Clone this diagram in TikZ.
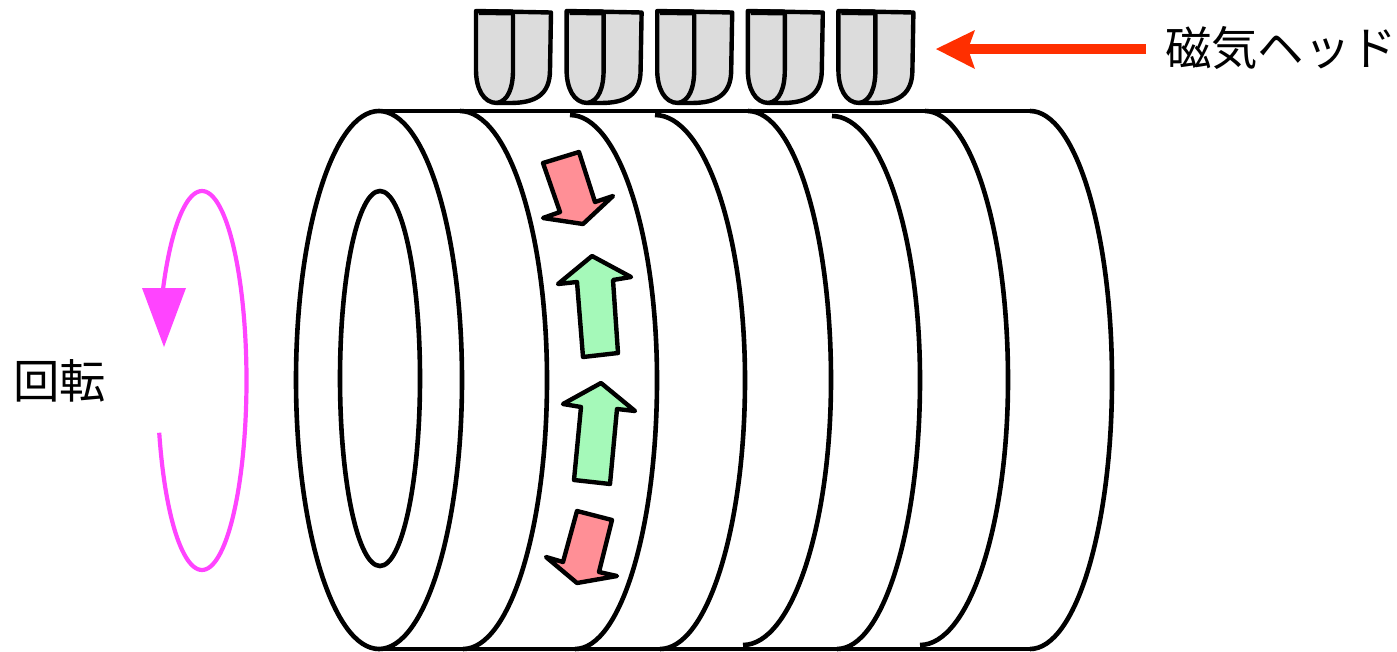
\documentclass[tikz,border=0pt]{standalone}
\usepackage{fontspec}
\newfontfamily\jpfont{Noto Sans CJK JP}
\definecolor{headgray}{HTML}{DCDCDC}
\definecolor{redfill}{HTML}{FF8F96}
\definecolor{greenfill}{HTML}{A5F9B9}
\definecolor{magentaline}{HTML}{FF44FF}
\definecolor{redline}{HTML}{FF2F00}
\newcommand{\halfarc}[5]{% top x, top y, mid x, bottom x, bottom y
  \def\midy{380}
  \draw[bodyline] (#1,#2) .. controls ({#1+0.5523*(#3-#1)},#2) and (#3,{\midy-0.5523*(\midy-#2)}) .. (#3,\midy)
     .. controls (#3,{\midy+0.5523*(#5-\midy)}) and ({#4+0.5523*(#3-#4)},#5) .. (#4,#5);
}
\newcommand{\headshape}[1]{%
  \begin{scope}[xshift=#1pt]
    \draw[headline,fill=headgray,line join=round] (476,11) -- (551,12.5) -- (550,70)
      .. controls (550,95) and (535,103) .. (510,103) -- (497,103)
      .. controls (483,103) and (476,88) .. (476,70) -- cycle;
    \draw[headline] (513,12) -- (513,70) .. controls (513,88) and (508,101) .. (497,103);
    \draw[line width=6pt] (479,12) -- (513,12.5);
  \end{scope}
}
\tikzset{
  bodyline/.style={line width=4.6pt,black},
  headline/.style={line width=4.4pt,black},
  arrowbox/.style={line width=4.4pt,black,line join=round},
  textlabel/.style={font=\jpfont\fontsize{46.4}{47}\selectfont,inner sep=0pt,text=black},
}
\begin{document}
\begin{tikzpicture}[x=1pt,y=-1pt]
\useasboundingbox (0,0) rectangle (1397,651);
\fill[white] (0,0) rectangle (1397,651);
% cylinder
\draw[bodyline] (379,380) ellipse [x radius=83pt,y radius=269pt];
\draw[bodyline] (380,378.5) ellipse [x radius=40pt,y radius=187.5pt];
\draw[bodyline] (379,111) -- (1030,111);
\draw[bodyline] (379,649) -- (1030,649);
\halfarc{460}{111}{547}{463}{649}
\halfarc{570}{115}{657}{575}{649}
\halfarc{655}{115}{745}{660}{649}
\halfarc{748}{111}{831}{743}{645}
\halfarc{832}{116}{920}{837}{649}
\halfarc{925}{111}{1008}{920}{645}
\halfarc{1030}{111}{1112}{1030}{649}
% heads
\headshape{0}\headshape{90.6}\headshape{181.2}\headshape{271.8}\headshape{362.4}
% small arrows
\draw[arrowbox,fill=redfill] (543,163) -- (579,152) -- (595,202) -- (613,196) -- (583,224) -- (543,218) -- (560,212) -- cycle;
\draw[arrowbox,fill=greenfill] (592,256) -- (631,277) -- (613,280) -- (618,353) -- (583,357) -- (577,282) -- (558,284) -- cycle;
\draw[arrowbox,fill=greenfill] (601,383) -- (635,411) -- (617,409) -- (610,484) -- (574,480) -- (581,407) -- (563,404) -- cycle;
\draw[arrowbox,fill=redfill] (577,511) -- (612,520) -- (599,572) -- (617,576) -- (577,583) -- (546,557) -- (563,562) -- cycle;
% rotation
\draw[magentaline,line width=4.2pt] plot[domain=164:-151,samples=120,smooth] ({202+44.5*cos(\x)},{380.5+189.5*sin(\x)});
\fill[magentaline] (142,288) -- (186,288) -- (164,347) -- cycle;
% red arrow
\coordinate (headstail) at (1146,49);
\coordinate (headstip) at (936,49);
\draw[redline,line width=10pt] (headstail) -- (965,49);
\fill[redline] (headstip) -- (975,30) -- (968,49) -- (975,69) -- cycle;
% labels
\node[textlabel] (rotlabel) at (60,381) {回転};
\node[textlabel] (headlabel) at (1281,48) {磁気ヘッド};
\end{tikzpicture}
\end{document}
